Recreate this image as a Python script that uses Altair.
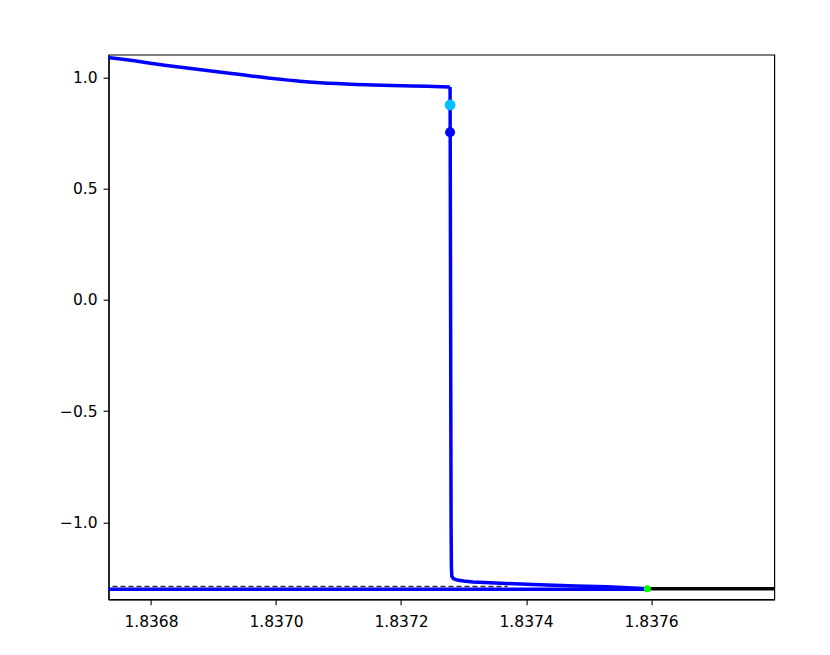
import altair as alt
import pandas as pd

# Upper branch, smooth part (solid blue)
smooth_x = [1.83670, 1.836734, 1.836825, 1.836932, 1.837038, 1.837145, 1.837252, 1.8372784]
smooth_y = [1.095, 1.0876, 1.053, 1.0157, 0.9825, 0.966, 0.9587, 0.956]

# Upper branch, jump and knee towards the fold
jump_x = [1.8372784, 1.8372788, 1.8372792, 1.8372796, 1.8372800, 1.8372805, 1.8372812,
          1.837284, 1.837290, 1.837300, 1.837315, 1.837360, 1.837422, 1.837480, 1.837530, 1.837594]
jump_y = [0.956, 0.5, 0.0, -0.5, -1.0, -1.2, -1.243, -1.254, -1.259, -1.264, -1.268,
          -1.274, -1.281, -1.286, -1.290, -1.2985]

# Lower branch (solid blue), up to the fold point
lower_x = [1.83670, 1.837594]
lower_y = [-1.3005, -1.3005]

# Continuation after the fold (black)
black_x = [1.837594, 1.83790]
black_y = [-1.299, -1.299]

# Dashed reference line
dash_x = [1.83670, 1.83737]
dash_y = [-1.2885, -1.2885]

# Marked points
pt_x = [1.8372784, 1.8372784, 1.837594]
pt_y = [0.876, 0.753, -1.2985]
pt_kind = ["cyan", "blue", "green"]
pt_color = ["#00BFFF", "#0000FF", "#00FF00"]
pt_size = [115, 100, 50]

x_ticks = [1.8368, 1.8370, 1.8372, 1.8374, 1.8376]
y_ticks = [1.0, 0.5, 0.0, -0.5, -1.0]

x_dom = [1.8367322, 1.837797]
y_dom = [-1.346, 1.1016]

xs = alt.Scale(domain=x_dom, nice=False, zero=False)
ys = alt.Scale(domain=y_dom, nice=False, zero=False)

X = alt.X("x:Q", scale=xs, axis=alt.Axis(values=x_ticks, format=".4f", title=None))
Y = alt.Y("y:Q", scale=ys, axis=alt.Axis(values=y_ticks, title=None,
          labelExpr="replace(format(datum.value, '.1f'), '-', '\u2212')"))

def df(xv, yv):
    return pd.DataFrame({"x": xv, "y": yv, "i": list(range(len(xv)))})

LW = 3.5

dash = alt.Chart(df(dash_x, dash_y)).mark_line(
    color="#333333", strokeWidth=1.3, strokeDash=[5, 3], clip=True
).encode(x=X, y=Y, order="i:Q")

lower = alt.Chart(df(lower_x, lower_y)).mark_line(
    color="#0000FF", strokeWidth=LW, clip=True
).encode(x=X, y=Y, order="i:Q")

smooth = alt.Chart(df(smooth_x, smooth_y)).mark_line(
    color="#0000FF", strokeWidth=LW, clip=True, interpolate="monotone"
).encode(x=X, y=Y, order="i:Q")

jump = alt.Chart(df(jump_x, jump_y)).mark_line(
    color="#0000FF", strokeWidth=LW, clip=True, strokeJoin="miter"
).encode(x=X, y=Y, order="i:Q")

black = alt.Chart(df(black_x, black_y)).mark_line(
    color="#000000", strokeWidth=LW, clip=True
).encode(x=X, y=Y, order="i:Q")

pts_df = pd.DataFrame({"x": pt_x, "y": pt_y, "kind": pt_kind, "size": pt_size})
pts = alt.Chart(pts_df).mark_circle(opacity=1, clip=True).encode(
    x=X, y=Y,
    color=alt.Color("kind:N", scale=alt.Scale(domain=pt_kind, range=pt_color), legend=None),
    size=alt.Size("size:Q", scale=None, legend=None),
)

chart = alt.layer(dash, lower, smooth, jump, black, pts).properties(
    width=665.7, height=544.6,
    autosize=alt.AutoSizeParams(type="none"),
    padding={"left": 100.6, "top": 46.7, "right": 40, "bottom": 50},
).configure_view(
    stroke="black", strokeWidth=1.2
).configure_axis(
    grid=False, domainColor="black", domainWidth=1.2, tickColor="black", tickWidth=1.1,
    tickSize=5.5, labelFont="DejaVu Sans", labelFontSize=15.5, labelColor="black",
).configure_axisX(labelPadding=10).configure_axisY(labelPadding=6)

chart.save("out.html", embed_options={"renderer": "svg", "actions": False})
